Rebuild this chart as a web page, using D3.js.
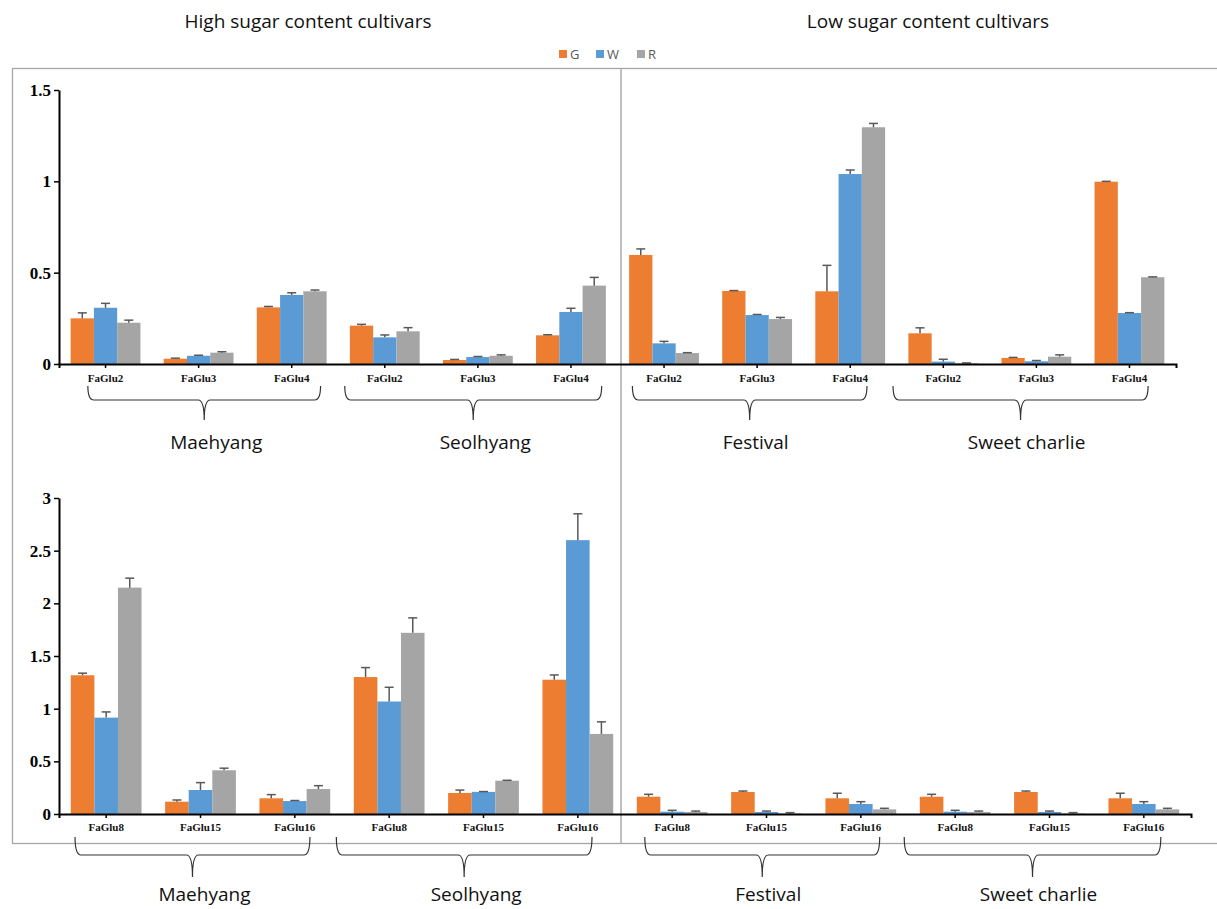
<!DOCTYPE html>
<html>
<head>
<meta charset="utf-8">
<script src="https://cdn.jsdelivr.net/npm/d3@7"></script>
<style>
  html, body { margin: 0; padding: 0; background: #fff; }
  svg { display: block; }
</style>
</head>
<body>
<svg id="chart" width="1217" height="909"></svg>
<script>
// ---------- DATA ----------
const cultivars = ["Maehyang", "Seolhyang", "Festival", "Sweet charlie"];
const groupTitles = ["High sugar content cultivars", "Low sugar content cultivars"];
const genesTop = ["FaGlu2", "FaGlu3", "FaGlu4"];
const genesBottom = ["FaGlu8", "FaGlu15", "FaGlu16"];
const series = ["G", "W", "R"];
const yTicksTop = [0, 0.5, 1, 1.5];
const yTicksBottom = [0, 0.5, 1, 1.5, 2, 2.5, 3];

// top panel, order: Maehyang(2,3,4), Seolhyang(2,3,4), Festival(2,3,4), Sweet charlie(2,3,4)
const topG    = [0.250, 0.029, 0.310, 0.210, 0.022, 0.157, 0.597, 0.400, 0.398, 0.168, 0.033, 0.998];
const topGErr = [0.030, 0.003, 0.005, 0.007, 0.003, 0.003, 0.033, 0.002, 0.142, 0.030, 0.003, 0.002];
const topW    = [0.308, 0.045, 0.378, 0.146, 0.038, 0.285, 0.113, 0.268, 1.040, 0.013, 0.015, 0.279];
const topWErr = [0.024, 0.003, 0.012, 0.013, 0.003, 0.020, 0.011, 0.003, 0.022, 0.013, 0.004, 0.002];
const topR    = [0.226, 0.062, 0.398, 0.179, 0.045, 0.429, 0.060, 0.246, 1.296, 0.004, 0.040, 0.475];
const topRErr = [0.014, 0.005, 0.007, 0.020, 0.005, 0.045, 0.002, 0.009, 0.021, 0.002, 0.010, 0.002];

// bottom panel, order: Maehyang(8,15,16), Seolhyang(8,15,16), Festival(8,15,16), Sweet charlie(8,15,16)
const botG    = [1.317, 0.117, 0.149, 1.300, 0.200, 1.275, 0.164, 0.209, 0.149, 0.164, 0.209, 0.149];
const botGErr = [0.020, 0.016, 0.035, 0.090, 0.027, 0.045, 0.023, 0.009, 0.048, 0.023, 0.009, 0.048];
const botW    = [0.915, 0.228, 0.123, 1.068, 0.210, 2.600, 0.022, 0.019, 0.095, 0.022, 0.019, 0.095];
const botWErr = [0.054, 0.070, 0.005, 0.135, 0.003, 0.250, 0.013, 0.009, 0.022, 0.013, 0.009, 0.022];
const botR    = [2.149, 0.415, 0.237, 1.720, 0.316, 0.760, 0.019, 0.005, 0.044, 0.019, 0.005, 0.044];
const botRErr = [0.090, 0.020, 0.032, 0.142, 0.004, 0.115, 0.009, 0.008, 0.010, 0.009, 0.008, 0.010];

// ---------- STYLE / LAYOUT ----------
const colors = { G: "#ED7D31", W: "#5B9BD5", R: "#A5A5A5" };
const errColor = "#595959";
const svg = d3.select("#chart");

// outer frame and divider
svg.append("rect").attr("x", 12.5).attr("y", 68.5).attr("width", 1215).attr("height", 775)
  .attr("fill", "none").attr("stroke", "#a6a6a6").attr("stroke-width", 1.3);
svg.append("line").attr("x1", 621).attr("x2", 621).attr("y1", 68.5).attr("y2", 843.5)
  .attr("stroke", "#b0b0b0").attr("stroke-width", 1.6);

// titles
svg.selectAll("text.gtitle").data(groupTitles).join("text")
  .attr("class", "gtitle")
  .attr("x", (d, i) => i === 0 ? 308 : 928)
  .attr("y", 28)
  .attr("text-anchor", "middle")
  .attr("font-family", "'Open Sans', sans-serif")
  .attr("font-size", 19)
  .attr("fill", "#111")
  .text(d => d);

// legend
const legendX = [559, 596, 637];
const lg = svg.append("g");
series.forEach((s, i) => {
  lg.append("rect").attr("x", legendX[i]).attr("y", 50).attr("width", 8).attr("height", 8).attr("fill", colors[s]);
  lg.append("text").attr("x", legendX[i] + 11).attr("y", 58.5)
    .attr("font-family", "'Open Sans', sans-serif").attr("font-size", 13).attr("fill", "#595959").text(s);
});

function panel(cfg) {
  const cats = d3.range(12);
  const labels = cultivars.flatMap(() => cfg.genes);
  const x = d3.scaleBand().domain(cats).range(cfg.xRange).padding(0);
  const step = x.bandwidth();
  const x1 = d3.scaleBand().domain(series).range([step * 0.125, step * 0.875]).padding(0);
  const y = d3.scaleLinear().domain(cfg.yDomain).range(cfg.yRange);
  const vals = { G: cfg.G, W: cfg.W, R: cfg.R };
  const errs = { G: cfg.GErr, W: cfg.WErr, R: cfg.RErr };

  const g = svg.append("g");
  series.forEach(s => {
    const data = cats.map(i => ({ i, v: vals[s][i], e: errs[s][i] }));
    g.selectAll(null).data(data).join("rect")
      .attr("x", d => x(d.i) + x1(s))
      .attr("y", d => y(d.v))
      .attr("width", x1.bandwidth())
      .attr("height", d => y(0) - y(d.v))
      .attr("fill", colors[s]);
    // error bars (upper)
    const cx = d => x(d.i) + x1(s) + x1.bandwidth() / 2;
    g.selectAll(null).data(data).join("line")
      .attr("x1", cx).attr("x2", cx)
      .attr("y1", d => y(d.v)).attr("y2", d => y(d.v + d.e))
      .attr("stroke", errColor).attr("stroke-width", 1.5);
    g.selectAll(null).data(data).join("line")
      .attr("x1", d => cx(d) - 4.5).attr("x2", d => cx(d) + 4.5)
      .attr("y1", d => y(d.v + d.e)).attr("y2", d => y(d.v + d.e))
      .attr("stroke", errColor).attr("stroke-width", 1.5);
  });

  // y axis
  const ya = svg.append("g").attr("transform", `translate(${cfg.xRange[0]},0)`)
    .call(d3.axisLeft(y).tickValues(cfg.yTicks).tickSize(5).tickSizeOuter(0).tickPadding(3)
      .tickFormat(d => String(d)));
  ya.select(".domain").attr("stroke", "#000").attr("stroke-width", 2);
  ya.selectAll(".tick line").attr("stroke", "#000").attr("stroke-width", 1.5);
  ya.selectAll(".tick text").attr("font-family", "'Liberation Serif', 'Times New Roman', serif")
    .attr("font-weight", "bold").attr("font-size", 17).attr("fill", "#000");

  // x axis
  const xa = svg.append("g").attr("transform", `translate(0,${y(0)})`)
    .call(d3.axisBottom(x).tickSize(4).tickSizeOuter(4).tickPadding(cfg.labelPad)
      .tickFormat(i => labels[i]));
  xa.select(".domain").attr("stroke", "#000").attr("stroke-width", 2);
  xa.selectAll(".tick line").attr("stroke", "#000").attr("stroke-width", 1.5);
  xa.selectAll(".tick text").attr("font-family", "'Liberation Serif', 'Times New Roman', serif")
    .attr("font-weight", "bold").attr("font-size", 11).attr("fill", "#111");

  // braces under cultivars (spans in category-index units)
  cultivars.forEach((c, k) => {
    const [a, b] = cfg.braces[k];
    const xL = cfg.xRange[0] + a * step, xR = cfg.xRange[0] + b * step;
    const xm = (xL + xR) / 2;
    const [y0, y1, y2] = cfg.braceY;
    const r = 6;
    const p = d3.path();
    p.moveTo(xL, y0);
    p.quadraticCurveTo(xL, y1, xL + r, y1);
    p.lineTo(xm - r, y1);
    p.quadraticCurveTo(xm, y1, xm, y2);
    p.quadraticCurveTo(xm, y1, xm + r, y1);
    p.lineTo(xR - r, y1);
    p.quadraticCurveTo(xR, y1, xR, y0);
    svg.append("path").attr("d", p.toString()).attr("fill", "none")
      .attr("stroke", "#333").attr("stroke-width", 1.2);
    svg.append("text").attr("x", xm + (k < 2 ? 12 : 6)).attr("y", cfg.labelY)
      .attr("text-anchor", "middle")
      .attr("font-family", "'Open Sans', sans-serif").attr("font-size", 19).attr("fill", "#111")
      .text(c);
  });
}

panel({
  genes: genesTop, xRange: [59, 1176], yDomain: [0, 1.5], yRange: [364, 90], yTicks: yTicksTop,
  G: topG, W: topW, R: topR, GErr: topGErr, WErr: topWErr, RErr: topRErr,
  labelPad: 6,
  braces: [[0.31, 2.81], [3.07, 5.83], [6.16, 8.68], [8.96, 11.70]],
  braceY: [386, 400, 420], labelY: 449
});

panel({
  genes: genesBottom, xRange: [59, 1191], yDomain: [0, 3], yRange: [814, 498], yTicks: yTicksBottom,
  G: botG, W: botW, R: botR, GErr: botGErr, WErr: botWErr, RErr: botRErr,
  labelPad: 5,
  braces: [[0.17, 2.66], [2.94, 5.65], [6.21, 8.70], [8.96, 11.68]],
  braceY: [837, 855, 877], labelY: 901
});
</script>
</body>
</html>
